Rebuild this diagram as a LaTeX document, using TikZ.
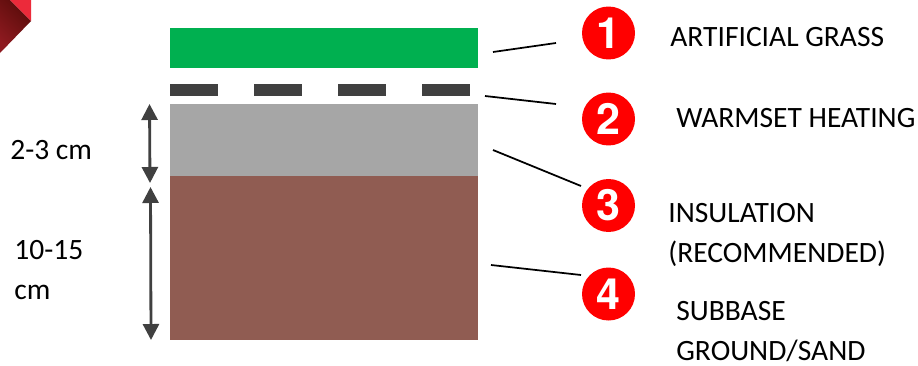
\documentclass[tikz,border=0pt]{standalone}
\usepackage{fontspec}
\setmainfont{Carlito}
\newfontfamily\badgefont{TeX Gyre Heros}
\usetikzlibrary{arrows.meta}

\definecolor{grassgreen}{HTML}{00B050}
\definecolor{heatgrey}{HTML}{404040}
\definecolor{insulgrey}{HTML}{A6A6A6}
\definecolor{soilbrown}{HTML}{905C52}
\definecolor{logolight}{HTML}{EC2A3A}
\definecolor{logomid}{HTML}{8E1A20}
\definecolor{logodark}{HTML}{5A0C0A}

\tikzset{
    layer/.style={inner sep=0pt, outer sep=0pt, minimum width=6.16cm},
    heatdash/.style={fill=heatgrey, inner sep=0pt, outer sep=0pt, minimum width=0.96cm, minimum height=0.24cm},
    badge/.style={circle, fill=red, text=white, inner sep=0pt, minimum size=1.06cm, font=\badgefont\fontsize{24.5}{24.5}\selectfont\bfseries},
    caption/.style={anchor=west, inner sep=0pt, align=left, font=\fontsize{16.8}{22.7}\selectfont},
    leader/.style={line width=1pt, black},
    depth/.style={line width=1.6pt, heatgrey, {Triangle[length=0.32cm, width=0.32cm]}-{Triangle[length=0.32cm, width=0.32cm]}}
}

\begin{document}
\begin{tikzpicture}[x=0.02cm, y=-0.02cm]
    \useasboundingbox (0,0) rectangle (918,365);

    % Corner of the logo
    \shade [top color=logodark, bottom color=logomid, shading angle=-45] (0,0) -- (10,0) -- (31,21) -- (0,53) -- cycle;
    \fill [logolight] (10,0) -- (31,0) -- (31,21) -- cycle;

    % Layers of the floor
    \node [layer, fill=grassgreen, minimum height=0.8cm] (grass) at (324,48) {};
    \node [layer, fill=insulgrey, minimum height=1.44cm] (insulation) at (324,140) {};
    \node [layer, fill=soilbrown, minimum height=3.28cm] (subbase) at (324,258) {};

    % Heating strip as four dashes
    \foreach \i/\xpos in {1/194, 2/278, 3/362, 4/446}
        \node [heatdash] (heat\i) at (\xpos,90) {};

    % Numbered badges
    \node [badge] (badge1) at (608.5,33) {1};
    \node [badge] (badge2) at (608.5,119) {2};
    \node [badge] (badge3) at (608.5,205.5) {3};
    \node [badge] (badge4) at (608.5,294) {4};

    % Captions next to the badges
    \node [caption] (capgrass) at (670,37) {ARTIFICIAL GRASS};
    \node [caption] (capheat) at (676,118) {WARMSET HEATING};
    \node [caption] (capinsul) at (668,235) {INSULATION\\(RECOMMENDED)};
    \node [caption] (capsub) at (676,331.5) {SUBBASE\\GROUND/SAND};

    % Free ends of the leader lines
    \coordinate (lead1a) at (493,52);
    \coordinate (lead1b) at (556,43);
    \coordinate (lead2a) at (485,96);
    \coordinate (lead2b) at (556,104);
    \coordinate (lead3a) at (493,150);
    \coordinate (lead3b) at (581,186);
    \coordinate (lead4a) at (491,265);
    \coordinate (lead4b) at (581,275);

    \draw [leader] (lead1a) -- (lead1b);
    \draw [leader] (lead2a) -- (lead2b);
    \draw [leader] (lead3a) -- (lead3b);
    \draw [leader] (lead4a) -- (lead4b);

    % Depth arrows with their labels
    \coordinate (depth1a) at (149.5,104);
    \coordinate (depth1b) at (150,183);
    \coordinate (depth2a) at (150.5,187);
    \coordinate (depth2b) at (151,340);

    \draw [depth] (depth1a) -- (depth1b);
    \draw [depth] (depth2a) -- (depth2b);

    \node [caption] (depthtop) at (10,150) {2-3 cm};
    \node [caption] (depthlow) at (14,270) {10-15\\cm};
\end{tikzpicture}
\end{document}
